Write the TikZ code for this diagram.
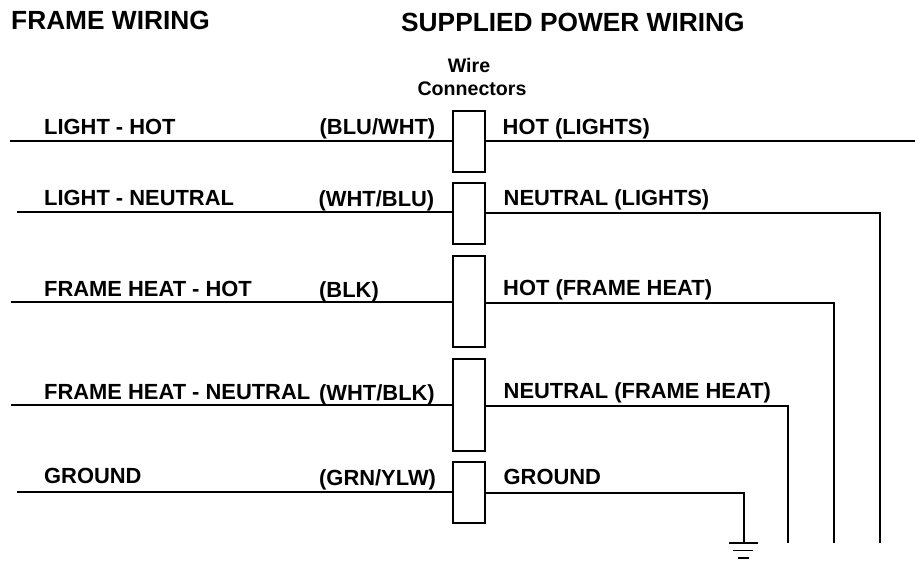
\documentclass[tikz,border=0pt]{standalone}
\usepackage{fontspec}
\setmainfont{Liberation Sans}
\tikzset{
    wirelabel/.style={font=\fontsize{21.9}{24}\selectfont\bfseries, anchor=base west, inner sep=0pt},
    headlabel/.style={font=\fontsize{26.3}{28}\selectfont\bfseries, anchor=base west, inner sep=0pt},
    smalllabel/.style={font=\fontsize{19.6}{22}\selectfont\bfseries, anchor=base, inner sep=0pt},
    connector/.style={draw, line width=1.8pt, minimum width=32.5pt, inner sep=0pt, outer sep=0pt, anchor=north},
    wire/.style={line width=1.6pt},
}
\begin{document}
\begin{tikzpicture}[x=1pt,y=-1pt]
    \useasboundingbox (0,0) rectangle (915,563);

    \node[headlabel] (frame) at (11,29) {FRAME WIRING};
    \node[headlabel] (supplied) at (401,31) {SUPPLIED POWER WIRING};
    \node[smalllabel] (wcone) at (469,72) {Wire};
    \node[smalllabel] (wctwo) at (472,95.5) {Connectors};

    % name, top, height, wire y, wire start, label y, colour y, right label x, y
    \foreach \id/\ytop/\yhgt/\wy/\lx/\ly/\cy/\rx/\ry/\lft/\col/\colx/\rgt in {
        a/110.7/61/141/10/134/134/502.5/134/{LIGHT - HOT}/{(BLU/WHT)}/319.5/{HOT (LIGHTS)},
        b/183/61/212/17/205/206/503.5/205/{LIGHT - NEUTRAL}/{(WHT/BLU)}/318.5/{NEUTRAL (LIGHTS)},
        c/256/91/302/11/296/297/503/295/{FRAME HEAT - HOT}/{(BLK)}/319/{HOT (FRAME HEAT)},
        d/359/92/405/11/399/400/503.5/398/{FRAME HEAT - NEUTRAL}/{(WHT/BLK)}/319/{NEUTRAL (FRAME HEAT)},
        e/462/61/492/17/483/485/503.5/484/{GROUND}/{(GRN/YLW)}/319/{GROUND}} {
        \node[connector, minimum height=\yhgt] (box\id) at (468.9,\ytop) {};
        \coordinate (left\id) at (\lx,\wy);
        \draw[wire] (left\id) -- (box\id.west |- left\id);
        \node[wirelabel] (lab\id) at (44,\ly) {\lft};
        \node[wirelabel] (col\id) at (\colx,\cy) {\col};
        \node[wirelabel] (out\id) at (\rx,\ry) {\rgt};
    }

    \coordinate (enda) at (915,141);
    \coordinate (cornerb) at (880,213);
    \coordinate (cornerc) at (833.7,303);
    \coordinate (cornerd) at (787.7,406);
    \coordinate (cornere) at (743.8,493);
    \coordinate (gnd) at (743.8,543);

    \draw[wire] (boxa.east |- enda) -- (enda);
    \draw[wire] (boxb.east |- cornerb) -- (cornerb) -- (880,543);
    \draw[wire] (boxc.east |- cornerc) -- (cornerc) -- (833.7,543);
    \draw[wire] (boxd.east |- cornerd) -- (cornerd) -- (787.7,543);
    \draw[wire] (boxe.east |- cornere) -- (cornere) -- (gnd);

    % ground symbol
    \draw[wire] (729,543) -- (758,543);
    \draw[wire] (733,550.5) -- (753,550.5);
    \draw[wire] (738,558) -- (749,558);
\end{tikzpicture}
\end{document}
